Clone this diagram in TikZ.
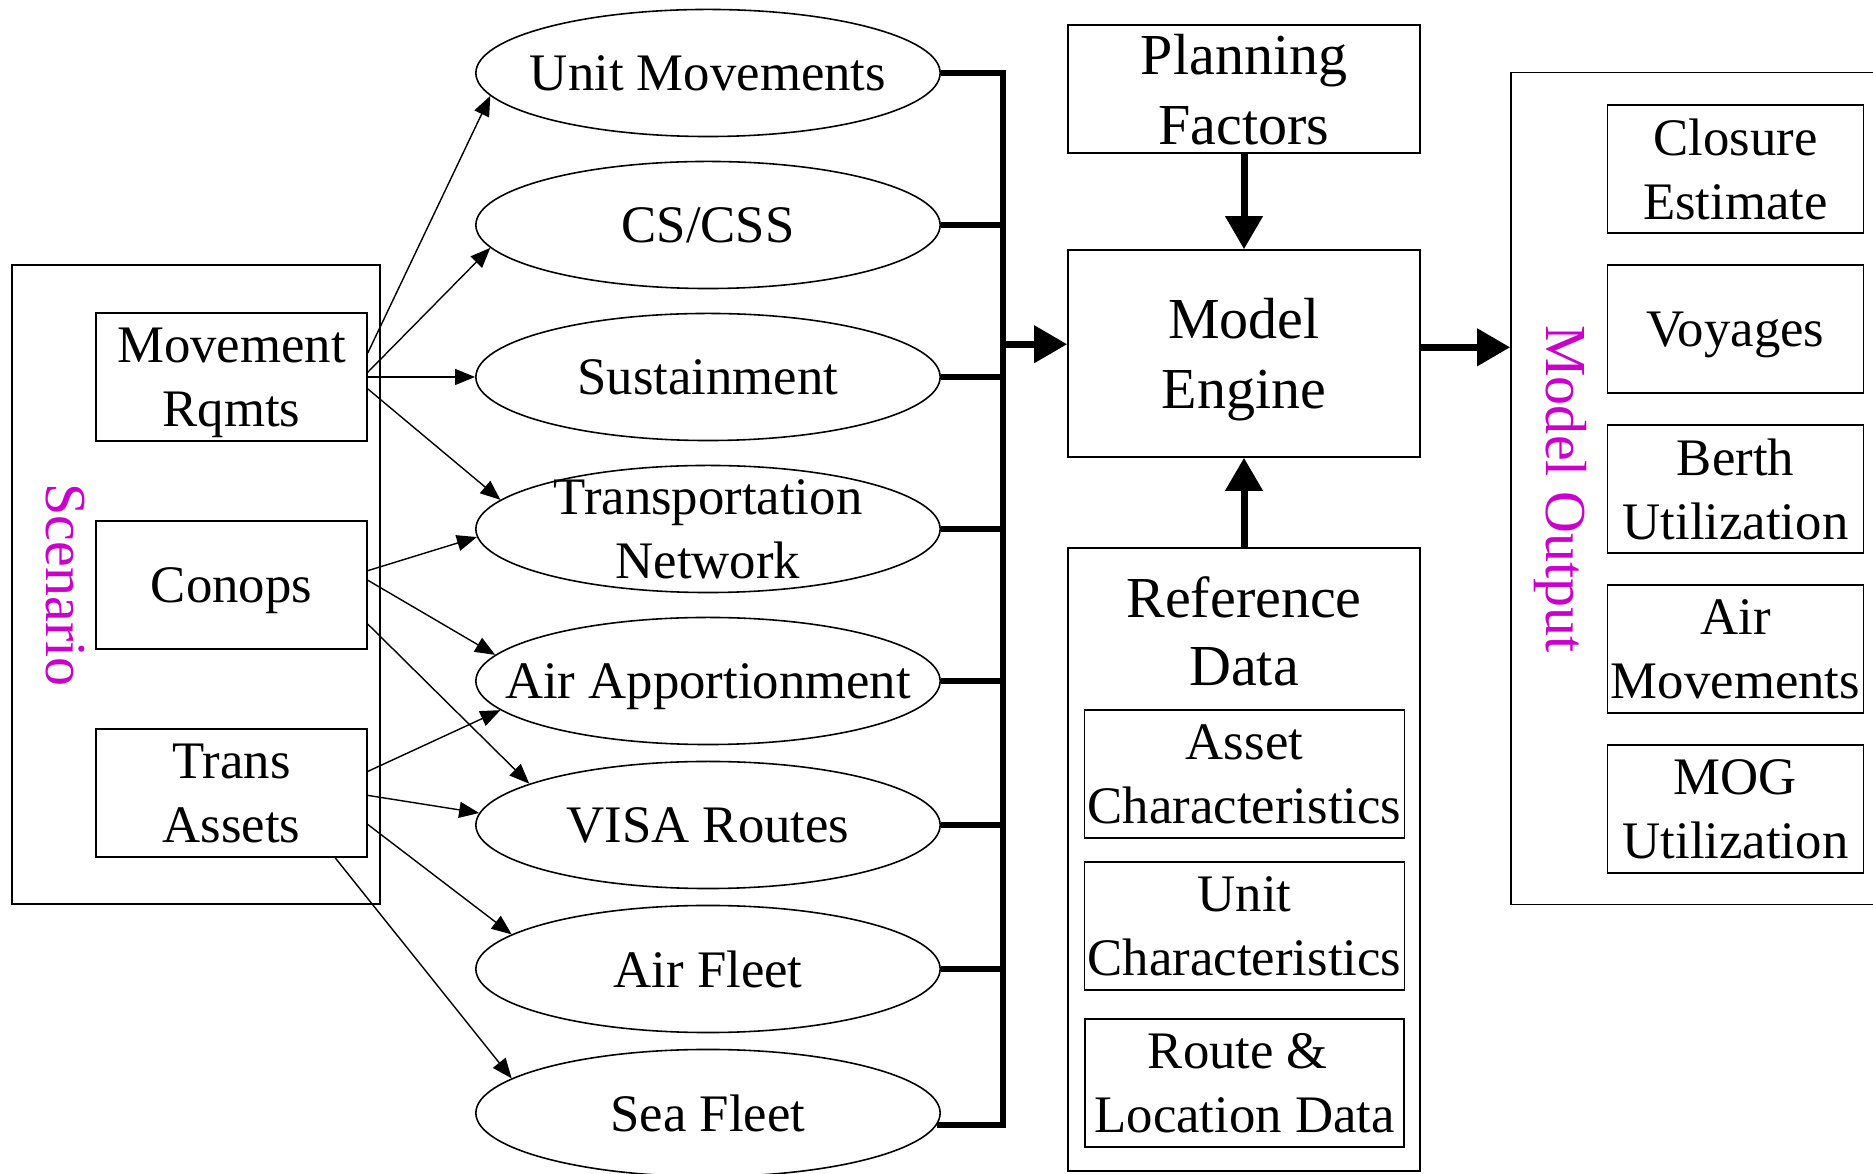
\documentclass[tikz,border=0pt]{standalone}
\usepackage{fontspec}
\setmainfont{Liberation Serif}
\usetikzlibrary{shapes.geometric,arrows.meta}
\definecolor{scenmagenta}{RGB}{204,0,204}

\tikzset{
  inbox/.style={draw, line width=0.4pt, inner sep=1pt, align=center, text depth=-1pt, font=\fontsize{15}{18.3}\selectfont},
  srcbox/.style={inbox, minimum width=2.71cm, minimum height=1.28cm},
  resbox/.style={inbox, minimum width=2.56cm, minimum height=1.28cm},
  refbox/.style={inbox, minimum width=3.19cm, minimum height=1.28cm},
  corebox/.style={draw, line width=0.4pt, inner sep=1pt, align=center, text depth=-1pt, minimum width=3.52cm, font=\fontsize{16.5}{19.9}\selectfont},
  groupbox/.style={draw, line width=0.4pt, inner sep=0pt},
  oval/.style={ellipse, draw, line width=0.45pt, minimum width=4.64cm, minimum height=1.27cm, inner sep=0pt},
  ovaltext/.style={align=center, inner sep=0pt, text depth=-1pt, font=\fontsize{15}{18.3}\selectfont},
  bigtext/.style={align=center, inner sep=0pt, font=\fontsize{16.5}{19.35}\selectfont},
  grouplabel/.style={text=scenmagenta, inner sep=0pt, rotate=-90, font=\fontsize{16.5}{19.7}\selectfont},
  thinarr/.style={-{Triangle[length=0.2cm,width=0.16cm]}, line width=0.4pt},
  busline/.style={line width=1.6pt},
  thickarr/.style={-{Triangle[length=0.33cm,width=0.36cm]}, line width=2pt},
}

\begin{document}
\begin{tikzpicture}[x=0.01cm, y=-0.01cm]
\useasboundingbox (0,0) rectangle (1873,1174);

% Scenario
\node[groupbox, minimum width=3.68cm, minimum height=6.39cm] (scen) at (196,584.5) {};
\node[grouplabel] (scenlbl) at (65,585) {Scenario};
\node[srcbox] (mr) at (231.5,377) {Movement\\Rqmts};
\node[srcbox] (co) at (231.5,585) {Conops};
\node[srcbox] (ta) at (231.5,793) {Trans\\Assets};

% Inputs
\node[oval, label={[ovaltext]center:Unit Movements}] (unit) at (708,73) {};
\node[oval, label={[ovaltext]center:CS/CSS}] (css) at (708,225) {};
\node[oval, label={[ovaltext]center:Sustainment}] (sust) at (708,377) {};
\node[oval, label={[ovaltext]center:Transportation\\Network}] (trans) at (708,529) {};
\node[oval, label={[ovaltext]center:Air Apportionment}] (airapp) at (708,681) {};
\node[oval, label={[ovaltext]center:VISA Routes}] (visa) at (708,825) {};
\node[oval, label={[ovaltext]center:Air Fleet}] (airfl) at (708,969) {};
\node[oval, label={[ovaltext]center:Sea Fleet}] (sea) at (708,1113) {};

% Scenario to inputs
\draw[thinarr] (mr.10.4) -- (unit.186.9);
\draw[thinarr] (mr.2.4) -- (css.186.6);
\draw[thinarr] (mr.east) -- (sust.west);
\draw[thinarr] (mr.-5.9) -- (trans.172.8);
\draw[thinarr] (co.6.8) -- (trans.182.1);
\draw[thinarr] (co.2.6) -- (airapp.173.8);
\draw[thinarr] (co.-16.4) -- (visa.167.5);
\draw[thinarr] (ta.9.6) -- (airapp.188.9);
\draw[thinarr] (ta.-1.3) -- (visa.177);
\draw[thinarr] (ta.-13.6) -- (airfl.170.3);
\draw[thinarr] (ta.-32.4) -- (sea.170.7);

% Collecting bus
\coordinate (bus) at (1003,0);
\draw[busline] (unit.east) -| (sea.-3.5 -| bus) -- (sea.-3.5);
\foreach \e in {css,sust,trans,airapp,visa,airfl}
  \draw[busline] (\e.east) -- (\e.east -| bus);

% Model
\node[corebox, minimum height=1.28cm] (plan) at (1244,89) {Planning\\Factors};
\node[corebox, minimum height=2.07cm] (engine) at (1244,353.5) {Model\\Engine};
\node[groupbox, minimum width=3.52cm, minimum height=6.23cm] (refgrp) at (1244,859.5) {};
\node[bigtext] (reflbl) at (1244,631) {Reference\\Data};
\node[refbox] (asset) at (1244.5,774) {Asset\\Characteristics};
\node[refbox] (unitch) at (1244.5,926) {Unit\\Characteristics};
\node[refbox] (route) at (1244.5,1083) {Route \&\kern0.25em\\Location Data};

\draw[thickarr] (engine.177.7 -| bus) -- (engine.177.7);
\draw[thickarr] (plan) -- (engine);
\draw[thickarr] (refgrp) -- (engine);

% Model output
\node[groupbox, minimum width=3.8cm, minimum height=8.31cm] (outgrp) at (1701,488.5) {};
\node[grouplabel] (outlbl) at (1560,489) {Model Output};
\node[resbox] (closure) at (1735.5,169) {Closure\\Estimate};
\node[resbox] (voyage) at (1735.5,329) {Voyages};
\node[resbox] (berth) at (1735.5,489) {Berth\\Utilization};
\node[resbox] (airmov) at (1735.5,649) {Air\\Movements};
\node[resbox] (mog) at (1735.5,809) {MOG\\Utilization};

\draw[thickarr] (engine.2.3) -- (engine.2.3 -| outgrp.west);
\end{tikzpicture}
\end{document}
